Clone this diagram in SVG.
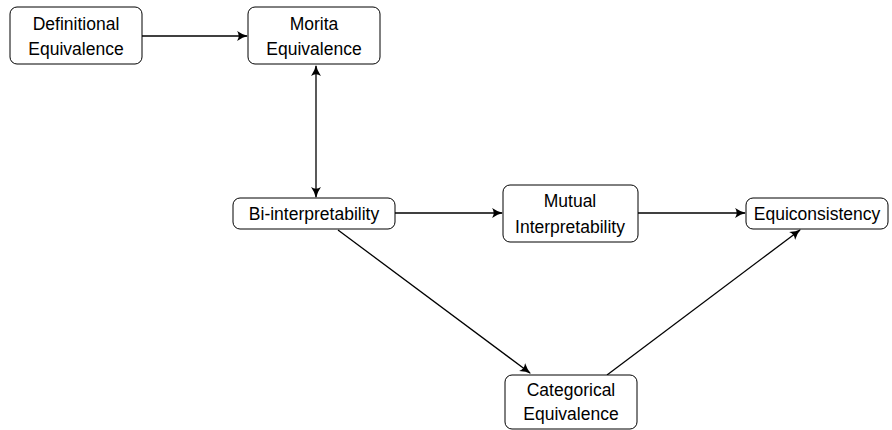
<svg xmlns="http://www.w3.org/2000/svg" width="892" height="430" viewBox="0 0 892 430">
<defs>
<marker id="ah" viewBox="0 0 10 10" refX="9" refY="5" markerWidth="11" markerHeight="11" markerUnits="userSpaceOnUse" orient="auto-start-reverse">
<path d="M0,0.5 Q5,4 10,5 Q5,6 0,9.5 Q3,5 0,0.5 Z" fill="#000"/>
</marker>
<style>
.box{fill:#fff;stroke:#000;stroke-width:1}
.t{font-family:"Liberation Sans","DejaVu Sans",sans-serif;font-size:17.5px;fill:#000;text-anchor:middle}
.c{stroke:#000;stroke-width:1.3;fill:none;marker-end:url(#ah)}
</style>
</defs>
<rect width="892" height="430" fill="#fff"/>
<g id="connectors">
<line class="c" x1="142" y1="36" x2="247" y2="36"/>
<line class="c" x1="316" y1="66" x2="316" y2="197" style="marker-start:url(#ah)"/>
<line class="c" x1="395" y1="213" x2="502" y2="213"/>
<line class="c" x1="638" y1="213" x2="745" y2="213"/>
<line class="c" x1="338" y1="230" x2="530" y2="373"/>
<line class="c" x1="607" y1="375" x2="800" y2="230"/>
</g>
<g id="definitional">
<rect class="box" x="10" y="7" width="132" height="57" rx="7"/>
<text class="t" x="76" y="30">Definitional</text>
<text class="t" x="76" y="55">Equivalence</text>
</g>
<g id="morita">
<rect class="box" x="248" y="7" width="132" height="57" rx="7"/>
<text class="t" x="314" y="30">Morita</text>
<text class="t" x="314" y="55">Equivalence</text>
</g>
<g id="bi">
<rect class="box" x="233" y="198" width="162" height="31" rx="7"/>
<text class="t" x="314" y="220">Bi-interpretability</text>
</g>
<g id="mutual">
<rect class="box" x="503" y="185" width="135" height="57" rx="7"/>
<text class="t" x="570" y="207">Mutual</text>
<text class="t" x="570" y="233">Interpretability</text>
</g>
<g id="equiconsistency">
<rect class="box" x="746" y="198" width="142" height="31" rx="7"/>
<text class="t" x="817" y="220">Equiconsistency</text>
</g>
<g id="categorical">
<rect class="box" x="505" y="375" width="132" height="54" rx="7"/>
<text class="t" x="571" y="396">Categorical</text>
<text class="t" x="571" y="420">Equivalence</text>
</g>
</svg>
